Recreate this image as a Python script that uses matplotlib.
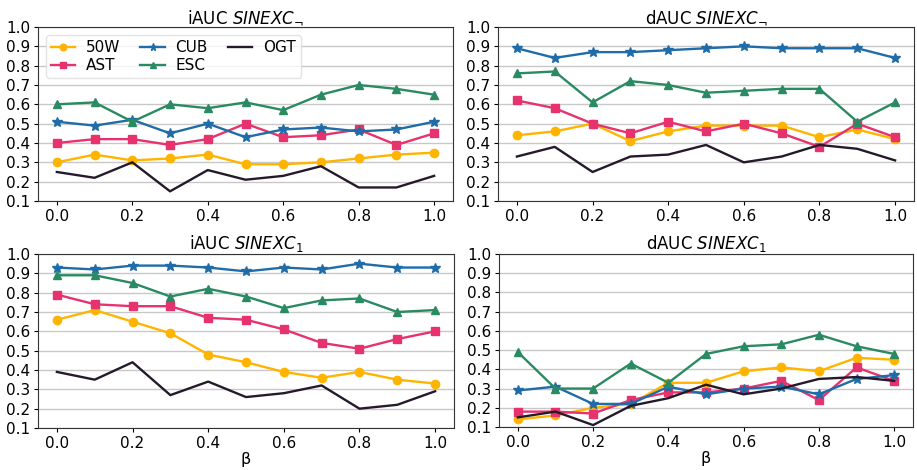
import matplotlib
matplotlib.use("Agg")
import matplotlib.pyplot as plt
import numpy as np

beta = [0.0, 0.1, 0.2, 0.3, 0.4, 0.5, 0.6, 0.7, 0.8, 0.9, 1.0]
series_names = ["50W", "AST", "CUB", "ESC", "OGT"]

# iAUC SINEXC_neg
iauc_neg_50W = [0.30, 0.34, 0.31, 0.32, 0.34, 0.29, 0.29, 0.30, 0.32, 0.34, 0.35]
iauc_neg_AST = [0.40, 0.42, 0.42, 0.39, 0.42, 0.50, 0.43, 0.44, 0.47, 0.39, 0.45]
iauc_neg_CUB = [0.51, 0.49, 0.52, 0.45, 0.50, 0.43, 0.47, 0.48, 0.46, 0.47, 0.51]
iauc_neg_ESC = [0.60, 0.61, 0.51, 0.60, 0.58, 0.61, 0.57, 0.65, 0.70, 0.68, 0.65]
iauc_neg_OGT = [0.25, 0.22, 0.30, 0.15, 0.26, 0.21, 0.23, 0.28, 0.17, 0.17, 0.23]

# dAUC SINEXC_neg
dauc_neg_50W = [0.44, 0.46, 0.50, 0.41, 0.46, 0.49, 0.49, 0.49, 0.43, 0.47, 0.42]
dauc_neg_AST = [0.62, 0.58, 0.50, 0.45, 0.51, 0.46, 0.50, 0.45, 0.38, 0.50, 0.43]
dauc_neg_CUB = [0.89, 0.84, 0.87, 0.87, 0.88, 0.89, 0.90, 0.89, 0.89, 0.89, 0.84]
dauc_neg_ESC = [0.76, 0.77, 0.61, 0.72, 0.70, 0.66, 0.67, 0.68, 0.68, 0.51, 0.61]
dauc_neg_OGT = [0.33, 0.38, 0.25, 0.33, 0.34, 0.39, 0.30, 0.33, 0.39, 0.37, 0.31]

# iAUC SINEXC_1
iauc_1_50W = [0.66, 0.71, 0.65, 0.59, 0.48, 0.44, 0.39, 0.36, 0.39, 0.35, 0.33]
iauc_1_AST = [0.79, 0.74, 0.73, 0.73, 0.67, 0.66, 0.61, 0.54, 0.51, 0.56, 0.60]
iauc_1_CUB = [0.93, 0.92, 0.94, 0.94, 0.93, 0.91, 0.93, 0.92, 0.95, 0.93, 0.93]
iauc_1_ESC = [0.89, 0.89, 0.85, 0.78, 0.82, 0.78, 0.72, 0.76, 0.77, 0.70, 0.71]
iauc_1_OGT = [0.39, 0.35, 0.44, 0.27, 0.34, 0.26, 0.28, 0.32, 0.20, 0.22, 0.29]

# dAUC SINEXC_1
dauc_1_50W = [0.14, 0.16, 0.20, 0.22, 0.33, 0.33, 0.39, 0.41, 0.39, 0.46, 0.45]
dauc_1_AST = [0.18, 0.18, 0.17, 0.24, 0.28, 0.28, 0.30, 0.34, 0.24, 0.41, 0.34]
dauc_1_CUB = [0.29, 0.31, 0.22, 0.22, 0.31, 0.27, 0.30, 0.31, 0.27, 0.35, 0.37]
dauc_1_ESC = [0.49, 0.30, 0.30, 0.43, 0.33, 0.48, 0.52, 0.53, 0.58, 0.52, 0.48]
dauc_1_OGT = [0.15, 0.18, 0.11, 0.21, 0.25, 0.32, 0.27, 0.30, 0.35, 0.36, 0.34]

panels = [
    (r"iAUC $\mathit{SINEXC}_{\neg}$", [iauc_neg_50W, iauc_neg_AST, iauc_neg_CUB, iauc_neg_ESC, iauc_neg_OGT]),
    (r"dAUC $\mathit{SINEXC}_{\neg}$", [dauc_neg_50W, dauc_neg_AST, dauc_neg_CUB, dauc_neg_ESC, dauc_neg_OGT]),
    (r"iAUC $\mathit{SINEXC}_{1}$", [iauc_1_50W, iauc_1_AST, iauc_1_CUB, iauc_1_ESC, iauc_1_OGT]),
    (r"dAUC $\mathit{SINEXC}_{1}$", [dauc_1_50W, dauc_1_AST, dauc_1_CUB, dauc_1_ESC, dauc_1_OGT]),
]

colors = {"50W": "#FFB400", "AST": "#E6336D", "CUB": "#1F6CA8", "ESC": "#2A8A62", "OGT": "#241A2B"}
markers = {"50W": "o", "AST": "s", "CUB": "*", "ESC": "^", "OGT": None}
msizes = {"50W": 6, "AST": 6, "CUB": 7, "ESC": 6, "OGT": 0}

fig = plt.figure(figsize=(9.17, 4.70), dpi=100)
W, H = 917, 470
boxes = [(38, 27, 453, 201), (498, 27, 914, 201), (38, 254, 454, 428), (499, 254, 913, 427)]
yticks = [0.1, 0.2, 0.3, 0.4, 0.5, 0.6, 0.7, 0.8, 0.9, 1.0]
xticks = [0.0, 0.2, 0.4, 0.6, 0.8, 1.0]

axes = []
for (title, data), (l, t, r, b) in zip(panels, boxes):
    ax = fig.add_axes([l / W, 1 - b / H, (r - l) / W, (b - t) / H])
    for name, vals in zip(series_names, data):
        ax.plot(beta, vals, color=colors[name], marker=markers[name], markersize=msizes[name],
                linewidth=1.7, label=name)
    ax.set_ylim(0.1, 1.0)
    ax.set_xlim(-0.05, 1.05)
    ax.set_yticks(yticks)
    ax.set_yticklabels([f"{v:.1f}" for v in yticks])
    ax.set_xticks(xticks)
    ax.set_xticklabels([f"{v:.1f}" for v in xticks])
    ax.grid(axis="y", color="#c8c8c8", linewidth=1.0)
    ax.set_axisbelow(True)
    ax.tick_params(labelsize=11, length=3, pad=2.5)
    ax.set_title(title, fontsize=12, pad=3)
    for s in ax.spines.values():
        s.set_color("#333333")
    axes.append(ax)

axes[2].set_xlabel("β", fontsize=11.5, labelpad=1)
axes[3].set_xlabel("β", fontsize=11.5, labelpad=1)

axes[0].legend(loc="upper left", ncol=3, fontsize=11, frameon=True, framealpha=0.8,
               edgecolor="#dddddd", handlelength=1.6, columnspacing=1.3,
               handletextpad=0.7, borderpad=0.35, labelspacing=0.2, markerscale=0.8)

fig.savefig("out.png", dpi=100)
